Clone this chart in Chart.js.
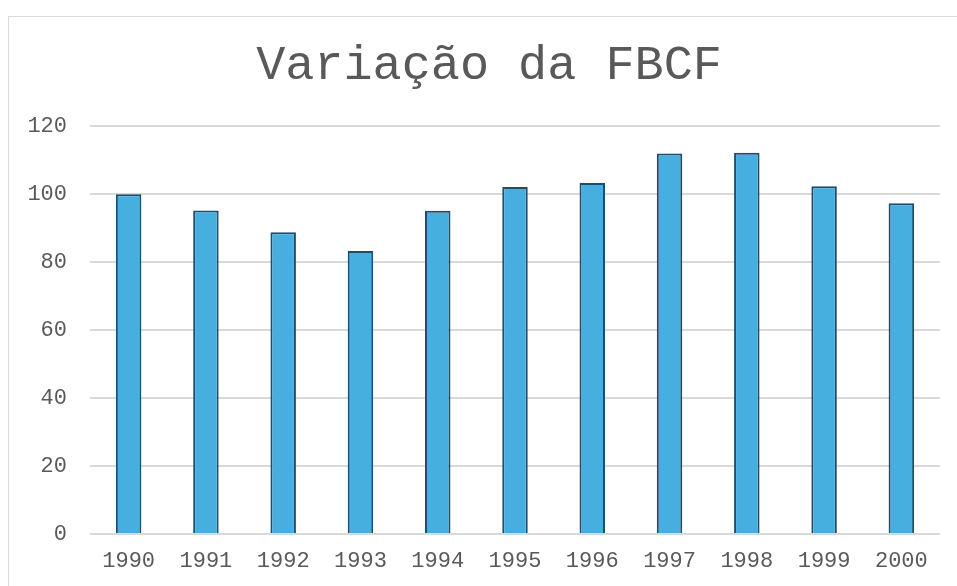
<!DOCTYPE html>
<html>
<head>
<meta charset="utf-8">
<script src="https://cdn.jsdelivr.net/npm/chart.js"></script>
<style>
body { margin: 0; background: #fff; overflow: hidden; }
#box { position: absolute; left: 8px; top: 16px; width: 962px; height: 590px; border: 1px solid #d9d9d9; box-sizing: border-box; }
</style>
</head>
<body>
<div id="box"><canvas id="myChart" width="960" height="588"></canvas></div>
<script>
// data
var years = ['1990','1991','1992','1993','1994','1995','1996','1997','1998','1999','2000'];
var fbcf = [100, 95.2, 88.8, 83.3, 95.1, 102.1, 103.3, 112, 112.2, 102.3, 97.3];
var yTicks = [0, 20, 40, 60, 80, 100, 120];

var fontName = "'Liberation Mono', 'Courier New', monospace";

var ctx = document.getElementById('myChart').getContext('2d');
var myChart = new Chart(ctx, {
    type: 'bar',
    data: {
        labels: years,
        datasets: [{
            label: 'FBCF',
            data: fbcf,
            backgroundColor: '#46afe0',
            borderColor: '#1d4e6b',
            borderWidth: 2,
            barPercentage: 0.33,
            categoryPercentage: 1
        }]
    },
    options: {
        responsive: false,
        animation: false,
        layout: { padding: 0 },
        plugins: {
            legend: { display: false },
            tooltip: { enabled: false },
            title: {
                display: true,
                text: 'Variação da FBCF',
                color: '#595959',
                font: { family: fontName, size: 48.5, weight: 'normal' },
                padding: { top: 20, bottom: 31 }
            }
        },
        scales: {
            x: {
                grid: { display: false },
                border: { display: false },
                ticks: {
                    color: '#595959',
                    font: { family: fontName, size: 22 },
                    padding: 6,
                    maxRotation: 0
                },
                afterFit: function(scale) { scale.height = 71; }
            },
            y: {
                min: 0,
                max: 120,
                afterBuildTicks: function(scale) {
                    scale.ticks = yTicks.map(function(v){ return { value: v }; });
                },
                grid: { color: '#d9d9d9', lineWidth: 2, drawTicks: false },
                border: { display: false },
                ticks: {
                    color: '#595959',
                    font: { family: fontName, size: 22 },
                    padding: 23
                },
                afterFit: function(scale) { scale.width = 81; }
            },
            // empty strip on the right so the title stays centred on the whole box
            yRight: {
                position: 'right',
                min: 0,
                max: 120,
                grid: { display: false },
                border: { display: false },
                ticks: { display: false },
                afterFit: function(scale) { scale.width = 29; }
            }
        }
    }
});
</script>
</body>
</html>
